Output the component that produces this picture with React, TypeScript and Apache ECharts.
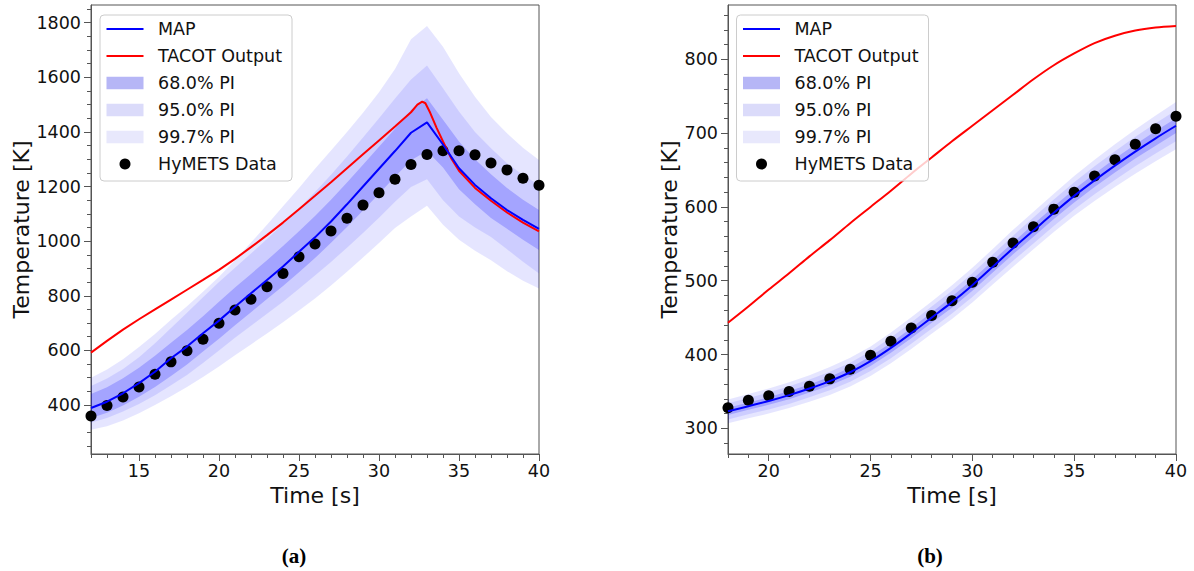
import React, { useEffect, useRef } from "react";
import * as echarts from "echarts";

// ---------- Panel (a) ----------
const timeA = [12, 13, 14, 15, 16, 17, 18, 19, 20, 21, 22, 23, 24, 25, 26, 27, 28, 29, 30, 31, 32, 33, 34, 35, 36, 37, 38, 39, 40];
const hymetsA = [360, 398, 429, 466, 513, 558, 599, 641, 699, 748, 787, 833, 882, 943, 990, 1037, 1084, 1132, 1177, 1227, 1281, 1317, 1331, 1331, 1316, 1286, 1261, 1230, 1205];
const mapA = [389, 412, 443, 480, 522, 571, 614, 663, 709, 760, 809, 858, 907, 961, 1014, 1072, 1135, 1200, 1265, 1330, 1397, 1435, 1354, 1267, 1206, 1157, 1114, 1078, 1045];
const tacotTimeA = [12, 13, 14, 15, 16, 17, 18, 19, 20, 21, 22, 23, 24, 25, 26, 27, 28, 29, 30, 31, 32, 32.4, 32.7, 32.9, 33.2, 33.6, 34, 34.5, 35, 36, 37, 38, 39, 40];
const tacotA = [592, 635, 676, 714, 750, 786, 822, 858, 895, 935, 978, 1022, 1068, 1117, 1166, 1216, 1267, 1318, 1369, 1420, 1472, 1500, 1511, 1505, 1470, 1415, 1365, 1305, 1258, 1195, 1148, 1105, 1068, 1036];
const pi68UpA = [440, 465, 498, 536, 580, 628, 675, 725, 778, 830, 880, 930, 982, 1036, 1092, 1152, 1215, 1280, 1346, 1412, 1480, 1523, 1445, 1365, 1300, 1245, 1195, 1152, 1114];
const pi68LoA = [352, 372, 398, 430, 466, 506, 548, 596, 643, 692, 740, 788, 836, 886, 938, 994, 1052, 1112, 1174, 1236, 1296, 1330, 1270, 1190, 1135, 1085, 1045, 1005, 968];
const pi95UpA = [470, 497, 532, 575, 626, 682, 738, 795, 850, 903, 955, 1008, 1063, 1120, 1180, 1243, 1310, 1380, 1450, 1522, 1592, 1643, 1560, 1475, 1400, 1340, 1285, 1242, 1206];
const pi95LoA = [335, 352, 376, 404, 436, 472, 510, 554, 600, 646, 690, 734, 778, 826, 874, 924, 976, 1030, 1086, 1144, 1198, 1227, 1150, 1090, 1050, 1015, 970, 925, 882];
const pi997UpA = [500, 530, 568, 612, 660, 712, 762, 815, 870, 930, 995, 1060, 1128, 1195, 1265, 1332, 1400, 1470, 1545, 1630, 1739, 1788, 1712, 1615, 1529, 1455, 1395, 1342, 1297];
const pi997LoA = [309, 322, 343, 370, 400, 432, 466, 503, 541, 582, 622, 662, 703, 746, 790, 838, 888, 940, 993, 1048, 1090, 1130, 1060, 1005, 965, 930, 890, 855, 827];
const xLabelsA = [15, 20, 25, 30, 35, 40];
const yLabelsA = [400, 600, 800, 1000, 1200, 1400, 1600, 1800];

// ---------- Panel (b) ----------
const timeB = [18, 19, 20, 21, 22, 23, 24, 25, 26, 27, 28, 29, 30, 31, 32, 33, 34, 35, 36, 37, 38, 39, 40];
const hymetsB = [328, 338, 344, 350, 357, 367, 380, 399, 418, 436, 453, 473, 498, 525, 551, 573, 597, 620, 642, 664, 685, 706, 723];
const mapB = [323, 330, 337, 345, 354, 364, 376, 391, 409, 429, 450, 471, 494, 519, 544, 568, 592, 615, 636, 656, 675, 693, 710];
const tacotB = [443, 465, 488, 510, 533, 555, 578, 600, 622, 645, 667, 689, 710, 731, 752, 773, 792, 808, 822, 832, 839, 843, 845];
const spread68B = [5, 5, 5, 5.5, 5.5, 6, 6, 6.5, 6.5, 7, 7, 7.5, 7.5, 8, 8, 8.5, 8.5, 9, 9, 9.5, 9.5, 10, 10];
const spread95B = [11, 11, 11.5, 12, 12, 12.5, 13, 13.5, 14, 14.5, 15, 15.5, 16, 16.5, 17, 17.5, 18, 18.5, 19, 19.5, 20, 20.5, 21];
const spread997B = [16, 16.5, 17, 17.5, 18, 19, 19.5, 20, 21, 21.5, 22, 23, 23.5, 24, 25, 25.5, 26, 27, 28, 29, 30, 31, 32];
const xLabelsB = [20, 25, 30, 35, 40];
const yLabelsB = [300, 400, 500, 600, 700, 800];

const legendNames = ["MAP", "TACOT Output", "68.0% PI", "95.0% PI", "99.7% PI", "HyMETS Data"];

const FONT = "DejaVu Sans";
const TEXT = "#111111";
const FRAME = "#555555";
const BAND_997 = "rgba(0,0,255,0.1)";
const BAND_95 = "rgba(0,0,255,0.1)";
const BAND_68 = "rgba(0,0,255,0.2)";

const zip = (xs: number[], ys: number[]) => xs.map((x, i) => [x, ys[i]]);
const minorTicks = (lo: number, hi: number, step: number, major: number) => {
  const out: number[] = [];
  for (let v = Math.ceil(lo / step) * step; v <= hi + 1e-9; v += step) {
    if (Math.abs(v / major - Math.round(v / major)) > 1e-6) out.push(v);
  }
  return out;
};

function band(name: string, xs: number[], lo: number[], hi: number[], fill: string, axis: number, smooth: number) {
  return {
    type: "custom",
    name,
    xAxisIndex: axis,
    yAxisIndex: axis,
    z: 1,
    silent: true,
    data: [[xs[0], lo[0]]],
    renderItem: (_p: any, api: any) => {
      const top = xs.map((x, i) => api.coord([x, hi[i]]));
      const bottom = xs.map((x, i) => api.coord([x, lo[i]])).reverse();
      return { type: "polygon", shape: { points: top.concat(bottom), smooth }, style: { fill } };
    },
  };
}

const plain = (v: number) => String(v);

function xAxes(grid: number, min: number, max: number, labels: number[]) {
  return [
    {
      type: "value",
      gridIndex: grid,
      min,
      max,
      position: "bottom",
      axisLine: { show: true, lineStyle: { color: FRAME, width: 1 } },
      axisTick: { show: true, customValues: labels, length: 7, lineStyle: { color: FRAME, width: 1 } },
      axisLabel: { customValues: labels, formatter: plain, color: TEXT, fontFamily: FONT, fontSize: 17.5, margin: 8 },
      splitLine: { show: false },
      name: "Time [s]",
      nameLocation: "middle",
      nameGap: 27,
      nameTextStyle: { color: TEXT, fontFamily: FONT, fontSize: 22 },
    },
    {
      type: "value",
      gridIndex: grid,
      min,
      max,
      position: "bottom",
      axisLine: { show: false },
      axisTick: { show: true, customValues: minorTicks(min, max, 1, 5), length: 4, lineStyle: { color: FRAME, width: 1 } },
      axisLabel: { show: false },
      splitLine: { show: false },
    },
  ];
}

function yAxes(grid: number, min: number, max: number, labels: number[], minorStep: number, major: number, gap: number) {
  return [
    {
      type: "value",
      gridIndex: grid,
      min,
      max,
      position: "left",
      axisLine: { show: true, lineStyle: { color: FRAME, width: 1 } },
      axisTick: { show: true, customValues: labels, length: 7, lineStyle: { color: FRAME, width: 1 } },
      axisLabel: { customValues: labels, formatter: plain, color: TEXT, fontFamily: FONT, fontSize: 17.5, margin: 10 },
      splitLine: { show: false },
      name: "Temperature [K]",
      nameLocation: "middle",
      nameGap: gap,
      nameTextStyle: { color: TEXT, fontFamily: FONT, fontSize: 22 },
    },
    {
      type: "value",
      gridIndex: grid,
      min,
      max,
      position: "left",
      axisLine: { show: false },
      axisTick: { show: true, customValues: minorTicks(min, max, minorStep, major), length: 4, lineStyle: { color: FRAME, width: 1 } },
      axisLabel: { show: false },
      splitLine: { show: false },
    },
  ];
}

function legendBox(ox: number) {
  const rows = [29, 56, 83, 110, 137, 164];
  const els: any[] = [
    {
      type: "rect",
      z: 100,
      shape: { x: ox + 100, y: 15, width: 192, height: 166, r: 4 },
      style: { fill: "rgba(255,255,255,0.8)", stroke: "#cccccc", lineWidth: 1 },
    },
    { type: "line", z: 101, shape: { x1: ox + 106.5, y1: rows[0], x2: ox + 143.5, y2: rows[0] }, style: { stroke: "#0000ff", lineWidth: 2 } },
    { type: "line", z: 101, shape: { x1: ox + 106.5, y1: rows[1], x2: ox + 143.5, y2: rows[1] }, style: { stroke: "#ff0000", lineWidth: 2 } },
    { type: "rect", z: 101, shape: { x: ox + 106.5, y: rows[2] - 6.3, width: 37, height: 12.6 }, style: { fill: "#b6b6f6" } },
    { type: "rect", z: 101, shape: { x: ox + 106.5, y: rows[3] - 6.3, width: 37, height: 12.6 }, style: { fill: "#dbdbfa" } },
    { type: "rect", z: 101, shape: { x: ox + 106.5, y: rows[4] - 6.3, width: 37, height: 12.6 }, style: { fill: "#e8e8fc" } },
    { type: "circle", z: 101, shape: { cx: ox + 125, cy: rows[5], r: 5.5 }, style: { fill: "#000000" } },
  ];
  legendNames.forEach((name, i) => {
    els.push({
      type: "text",
      z: 101,
      style: { text: name, x: ox + 158, y: rows[i], fill: TEXT, fontFamily: FONT, fontSize: 17.5, align: "left", verticalAlign: "middle" },
    });
  });
  return els;
}

function dots(name: string, xs: number[], ys: number[], axis: number) {
  return {
    type: "scatter", name, xAxisIndex: axis, yAxisIndex: axis, z: 3,
    symbol: "circle", symbolSize: 11, itemStyle: { color: "#000000", opacity: 1 },
    data: zip(xs, ys),
  };
}

function curve(name: string, xs: number[], ys: number[], color: string, axis: number, z: number, smooth: number | boolean) {
  return {
    type: "line", name, xAxisIndex: axis, yAxisIndex: axis, z, smooth,
    symbol: "none", lineStyle: { color, width: 2 }, itemStyle: { color },
    data: zip(xs, ys),
  };
}

export default function App() {
  const ref = useRef<HTMLDivElement>(null);

  useEffect(() => {
    if (!ref.current) return;
    const chart = echarts.init(ref.current, undefined, { renderer: "svg" });

    const lo68B = mapB.map((v, i) => v - spread68B[i]);
    const hi68B = mapB.map((v, i) => v + spread68B[i]);
    const lo95B = mapB.map((v, i) => v - spread95B[i]);
    const hi95B = mapB.map((v, i) => v + spread95B[i]);
    const lo997B = mapB.map((v, i) => v - spread997B[i]);
    const hi997B = mapB.map((v, i) => v + spread997B[i]);

    const option: any = {
      animation: false,
      backgroundColor: "#ffffff",
      grid: [
        { left: 91, top: 5, width: 448, height: 449, show: true, borderColor: FRAME, borderWidth: 1, outerBoundsMode: "none" },
        { left: 728, top: 5, width: 448, height: 449, show: true, borderColor: FRAME, borderWidth: 1, outerBoundsMode: "none" },
      ],
      xAxis: [...xAxes(0, 12, 40, xLabelsA), ...xAxes(1, 18, 40, xLabelsB)],
      yAxis: [
        ...yAxes(0, 220.6, 1864.8, yLabelsA, 50, 200, 56),
        ...yAxes(1, 265.2, 873.6, yLabelsB, 20, 100, 47),
      ],
      series: [
        band("99.7% PI", timeA, pi997LoA, pi997UpA, BAND_997, 0, 0),
        band("95.0% PI", timeA, pi95LoA, pi95UpA, BAND_95, 0, 0),
        band("68.0% PI", timeA, pi68LoA, pi68UpA, BAND_68, 0, 0),
        dots("HyMETS Data", timeA, hymetsA, 0),
        curve("TACOT Output", tacotTimeA, tacotA, "#ff0000", 0, 4, false),
        curve("MAP", timeA, mapA, "#0000ff", 0, 5, false),
        band("99.7% PI", timeB, lo997B, hi997B, BAND_997, 2, 0),
        band("95.0% PI", timeB, lo95B, hi95B, BAND_95, 2, 0),
        band("68.0% PI", timeB, lo68B, hi68B, BAND_68, 2, 0),
        dots("HyMETS Data", timeB, hymetsB, 2),
        curve("TACOT Output", timeB, tacotB, "#ff0000", 2, 4, 0.3),
        curve("MAP", timeB, mapB, "#0000ff", 2, 5, 0.3),
      ],
      graphic: [
        ...legendBox(0),
        ...legendBox(636.5),
        {
          type: "text", z: 100,
          style: { text: "(a)", x: 294, y: 556, fill: "#000", fontFamily: "Liberation Serif", fontWeight: "bold", fontSize: 21, align: "center", verticalAlign: "middle" },
        },
        {
          type: "text", z: 100,
          style: { text: "(b)", x: 930, y: 556, fill: "#000", fontFamily: "Liberation Serif", fontWeight: "bold", fontSize: 21, align: "center", verticalAlign: "middle" },
        },
      ],
    };

    chart.setOption(option);
    return () => chart.dispose();
  }, []);

  return <div ref={ref} style={{ position: "absolute", left: 0, top: 0, width: 1194, height: 571 }} />;
}
